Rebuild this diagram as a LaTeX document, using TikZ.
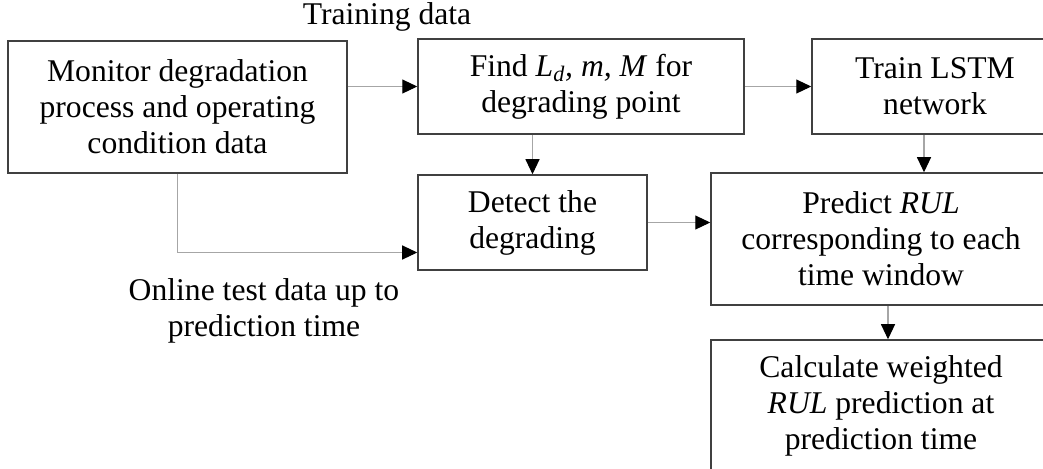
\documentclass[tikz,border=0pt]{standalone}
\usepackage{fontspec}
\setmainfont{Liberation Serif}
\usetikzlibrary{arrows.meta}
\begin{document}
\begin{tikzpicture}[x=0.02cm, y=-0.02cm,
  box/.style={draw=black!75, line width=0.9pt, align=center, inner sep=0pt, font=\fontsize{18}{20.5}\selectfont},
  link/.style={draw=black!35, line width=0.6pt, -{Triangle[length=0.3cm, width=0.28cm, color=black]}},
  lbl/.style={align=center, font=\fontsize{18}{20.5}\selectfont}]
\useasboundingbox (0,0) rectangle (1043,468);
\clip (0,0) rectangle (1043,468);
\node[box, minimum width=6.78cm, minimum height=2.64cm] (mon) at (177.5,107) {Monitor degradation\\process and operating\\condition data};
\node[box, minimum width=6.52cm, minimum height=1.9cm] (find) at (581,86.5) {Find \textit{L\textsubscript{d}, m, M} for\\degrading point};
\node[box, minimum width=4.92cm, minimum height=1.9cm] (train) at (935,86.5) {Train LSTM\\network};
\node[box, minimum width=4.58cm, minimum height=1.9cm] (detect) at (532.5,222.5) {Detect the\\degrading};
\node[box, minimum width=6.8cm, minimum height=2.64cm] (pred) at (881,239) {Predict \textit{RUL}\\corresponding to each\\time window};
\node[box, minimum width=6.8cm, minimum height=2.64cm] (calc) at (881,406) {Calculate weighted\\\textit{RUL} prediction at\\prediction time};
\node[lbl] (trainlbl) at (387,17) {Training data};
\node[lbl] (onlinelbl) at (264,311) {Online test data up to\\prediction time};
\draw[link] (find.west -| mon.east) -- (find.west);
\draw[link] (find) -- (train);
\draw[link] (detect.north |- find.south) -- (detect.north);
\draw[link] ([xshift=-0.22cm]train.south) -- ([xshift=-0.22cm]train.south |- pred.north);
\draw[link] (detect.east) -- (detect.east -| pred.west);
\draw[link] (mon.south) |- ([yshift=-0.6cm]detect.west);
\draw[link] ([xshift=0.14cm]pred.south) -- ([xshift=0.14cm]calc.north);
\end{tikzpicture}
\end{document}
